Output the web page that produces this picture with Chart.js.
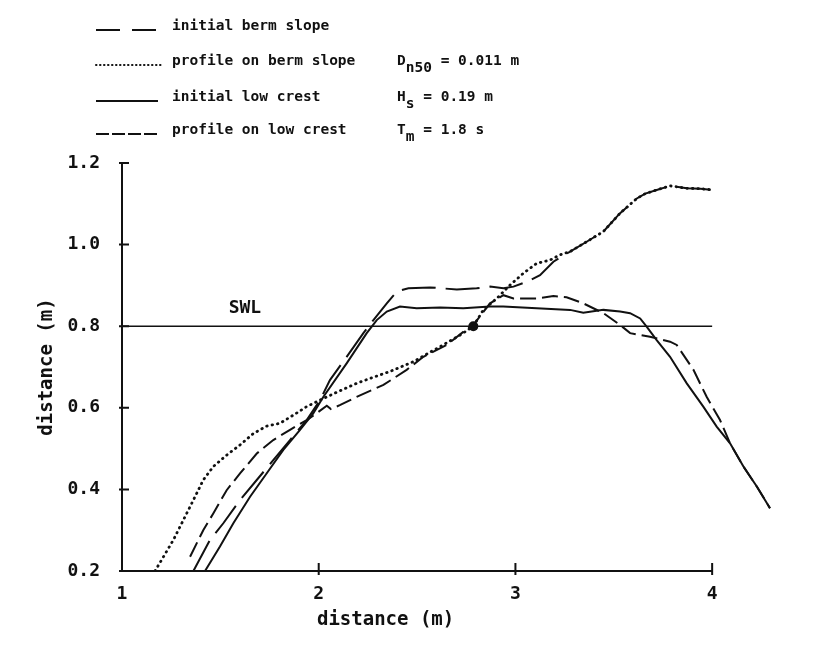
<!DOCTYPE html>
<html>
<head>
<meta charset="utf-8">
<title>Berm slope / low crest profiles</title>
<script src="https://cdn.jsdelivr.net/npm/chart.js@4.4.0/dist/chart.umd.min.js"></script>
<style>
  body { margin: 0; background: #fff; }
  #chart { display: block; }
</style>
</head>
<body>
<canvas id="chart" width="835" height="659"></canvas>
<script>
var INK = '#111';
var MONO = '"DejaVu Sans Mono", "Liberation Mono", monospace';

// profiles (x, y in m)
var bermInitX = [1.363, 1.447, 1.515, 1.600, 1.685, 1.769, 1.854, 1.939, 2.007, 2.057, 2.142, 2.227, 2.278, 2.346, 2.397, 2.456, 2.566, 2.702, 2.803, 2.871, 2.939, 2.990, 3.058, 3.125, 3.193, 3.278, 3.362, 3.447, 3.532, 3.617, 3.660, 3.718, 3.786, 3.871, 3.940, 4.006];
var bermInitY = [0.200, 0.276, 0.317, 0.374, 0.423, 0.472, 0.521, 0.570, 0.619, 0.668, 0.725, 0.783, 0.815, 0.856, 0.885, 0.893, 0.895, 0.890, 0.893, 0.897, 0.893, 0.897, 0.909, 0.925, 0.958, 0.983, 1.007, 1.032, 1.077, 1.113, 1.125, 1.134, 1.144, 1.138, 1.137, 1.134];

var bermProfX = [1.168, 1.261, 1.312, 1.363, 1.413, 1.464, 1.532, 1.600, 1.668, 1.735, 1.803, 1.871, 1.939, 2.007, 2.100, 2.193, 2.278, 2.362, 2.481, 2.617, 2.718, 2.786, 2.837, 2.905, 2.973, 3.041, 3.108, 3.176, 3.227, 3.278, 3.362, 3.447, 3.532, 3.617, 3.660, 3.718, 3.786, 3.871, 3.940, 4.006];
var bermProfY = [0.200, 0.276, 0.325, 0.374, 0.423, 0.456, 0.484, 0.509, 0.537, 0.555, 0.562, 0.582, 0.603, 0.619, 0.640, 0.660, 0.675, 0.689, 0.713, 0.750, 0.778, 0.800, 0.840, 0.868, 0.901, 0.930, 0.954, 0.962, 0.975, 0.983, 1.007, 1.032, 1.077, 1.113, 1.125, 1.134, 1.144, 1.138, 1.137, 1.134];

var crestInitX = [1.422, 1.498, 1.566, 1.651, 1.735, 1.820, 1.905, 1.973, 2.024, 2.142, 2.244, 2.295, 2.346, 2.413, 2.498, 2.617, 2.735, 2.871, 2.938, 3.108, 3.278, 3.345, 3.447, 3.532, 3.583, 3.634, 3.667, 3.718, 3.786, 3.871, 3.955, 4.023, 4.091, 4.159, 4.227, 4.294];
var crestInitY = [0.200, 0.260, 0.317, 0.382, 0.439, 0.497, 0.546, 0.587, 0.627, 0.709, 0.783, 0.815, 0.836, 0.848, 0.844, 0.846, 0.844, 0.848, 0.848, 0.844, 0.840, 0.833, 0.840, 0.836, 0.832, 0.819, 0.799, 0.766, 0.725, 0.660, 0.603, 0.554, 0.513, 0.456, 0.407, 0.354];

var crestProfX = [1.346, 1.413, 1.464, 1.532, 1.600, 1.685, 1.769, 1.854, 1.939, 1.990, 2.041, 2.062, 2.110, 2.193, 2.329, 2.447, 2.532, 2.651, 2.769, 2.786, 2.871, 2.939, 2.990, 3.108, 3.193, 3.260, 3.345, 3.447, 3.532, 3.583, 3.684, 3.786, 3.820, 3.905, 3.972, 4.040, 4.091, 4.159, 4.227, 4.294];
var crestProfY = [0.235, 0.300, 0.341, 0.398, 0.439, 0.488, 0.521, 0.546, 0.570, 0.587, 0.605, 0.597, 0.607, 0.627, 0.656, 0.693, 0.725, 0.754, 0.799, 0.803, 0.856, 0.876, 0.868, 0.868, 0.874, 0.871, 0.856, 0.832, 0.803, 0.783, 0.774, 0.762, 0.754, 0.693, 0.627, 0.570, 0.513, 0.456, 0.407, 0.354];

var swlX = [1, 4];
var swlY = [0.8, 0.8];
var dotX = [2.786];
var dotY = [0.80];

var xTicks = [1, 2, 3, 4];
var yTicks = [0.2, 0.4, 0.6, 0.8, 1.0, 1.2];

var legendLabels = ['initial berm slope', 'profile on berm slope', 'initial low crest', 'profile on low crest'];
var legendDash = [[24, 12], [0.5, 3.5], [], [13, 3]];
var paramMain = ['D', 'H', 'T'];
var paramSub = ['n50', 's', 'm'];
var paramRest = [' = 0.011 m', ' = 0.19 m', ' = 1.8 s'];

function pts(xs, ys) {
  return xs.map(function(x, i) { return {x: x, y: ys[i]}; });
}

function curve(label, xs, ys, dash, extra) {
  var ds = {
    label: label,
    data: pts(xs, ys),
    showLine: true,
    borderColor: INK,
    borderWidth: 2,
    borderDash: dash,
    pointRadius: 0,
    tension: 0,
    fill: false
  };
  for (var k in extra) ds[k] = extra[k];
  return ds;
}

var decor = {
  id: 'decor',
  afterDatasetsDraw: function(chart) {
    var ctx = chart.ctx, xs = chart.scales.x, ys = chart.scales.y;
    var x0 = xs.getPixelForValue(xTicks[0]);
    var x1 = xs.getPixelForValue(xTicks[xTicks.length - 1]);
    var yb = ys.getPixelForValue(yTicks[0]);
    var yt = ys.getPixelForValue(yTicks[yTicks.length - 1]);
    ctx.save();
    ctx.strokeStyle = INK;
    ctx.fillStyle = INK;
    ctx.lineWidth = 2;
    ctx.beginPath();
    ctx.moveTo(x0, yt);
    ctx.lineTo(x0, yb);
    ctx.lineTo(x1, yb);
    xTicks.slice(1).forEach(function(v) {
      var p = xs.getPixelForValue(v);
      ctx.moveTo(p, yb - 8);
      ctx.lineTo(p, yb + 4);
    });
    yTicks.forEach(function(v) {
      var p = ys.getPixelForValue(v);
      ctx.moveTo(x0 - 3, p);
      ctx.lineTo(x0 + 7, p);
    });
    ctx.stroke();

    // SWL label and x axis title
    ctx.font = 'bold 18px ' + MONO;
    ctx.textAlign = 'center';
    ctx.textBaseline = 'middle';
    ctx.fillText('SWL', xs.getPixelForValue(1.625), ys.getPixelForValue(0.845));
    ctx.font = 'bold 19px ' + MONO;
    ctx.fillText('distance (m)', xs.getPixelForValue(2.34), 620);

    // legend
    var rowY = [26, 61, 97, 130];
    ctx.font = 'bold 14.5px ' + MONO;
    ctx.textAlign = 'left';
    legendLabels.forEach(function(txt, i) {
      ctx.save();
      ctx.lineWidth = 2;
      ctx.lineCap = i === 1 ? 'round' : 'butt';
      ctx.setLineDash(legendDash[i]);
      ctx.beginPath();
      ctx.moveTo(96, rowY[i] + 4);
      ctx.lineTo(i === 1 ? 164 : 158, rowY[i] + 4);
      ctx.stroke();
      ctx.restore();
      ctx.fillText(txt, 172, rowY[i]);
    });

    // test parameters
    paramMain.forEach(function(m, i) {
      var x = 397, y = rowY[i + 1];
      ctx.fillText(m, x, y);
      x += ctx.measureText(m).width;
      ctx.fillText(paramSub[i], x, y + 7);
      x += ctx.measureText(paramSub[i]).width;
      ctx.fillText(paramRest[i], x, y);
    });
    ctx.restore();
  }
};

new Chart(document.getElementById('chart'), {
  type: 'scatter',
  data: {
    datasets: [
      curve('initial berm slope', bermInitX, bermInitY, [34, 10]),
      curve('profile on berm slope', bermProfX, bermProfY, [0.5, 5], {borderWidth: 2.8, borderCapStyle: 'round'}),
      curve('initial low crest', crestInitX, crestInitY, []),
      curve('profile on low crest', crestProfX, crestProfY, [16, 6]),
      curve('SWL', swlX, swlY, [], {borderWidth: 1.6}),
      {
        label: 'marker',
        data: pts(dotX, dotY),
        showLine: false,
        pointRadius: 5,
        pointBackgroundColor: INK,
        pointBorderWidth: 0
      }
    ]
  },
  options: {
    responsive: false,
    animation: false,
    layout: { padding: { top: 163, right: 54, left: 0, bottom: 0 } },
    plugins: { legend: { display: false }, tooltip: { enabled: false } },
    scales: {
      x: {
        type: 'linear',
        min: 1,
        max: 4.35,
        grid: { display: false },
        border: { display: false },
        ticks: {
          color: INK,
          padding: 5,
          font: { family: MONO, size: 18, weight: 'bold' },
          callback: function(v) { return v; }
        },
        afterBuildTicks: function(scale) {
          scale.ticks = xTicks.map(function(v) { return {value: v}; });
        },
        afterFit: function(scale) { scale.height = 88; }
      },
      y: {
        type: 'linear',
        min: 0.2,
        max: 1.2,
        grid: { display: false },
        border: { display: false },
        ticks: {
          color: INK,
          padding: 14,
          font: { family: MONO, size: 18, weight: 'bold' },
          callback: function(v) { return v.toFixed(1); }
        },
        afterBuildTicks: function(scale) {
          scale.ticks = yTicks.map(function(v) { return {value: v}; });
        },
        title: {
          display: true,
          text: 'distance (m)',
          color: INK,
          font: { family: MONO, size: 19, weight: 'bold' },
          padding: { top: 36, bottom: 0 }
        },
        afterFit: function(scale) { scale.width = 122; }
      }
    }
  },
  plugins: [decor]
});
</script>
</body>
</html>
